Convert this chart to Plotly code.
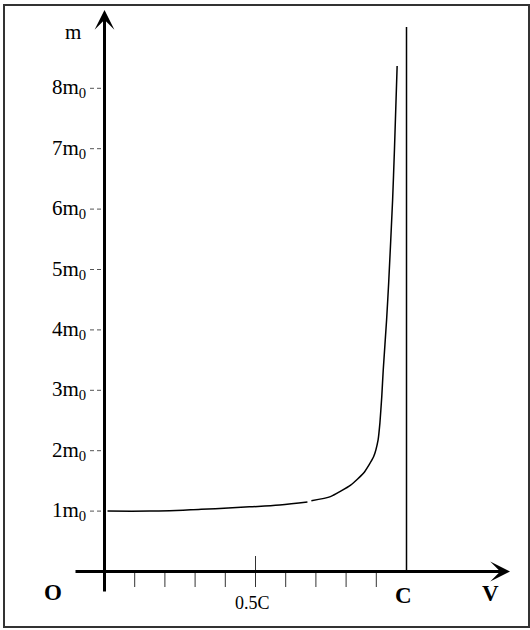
import plotly.graph_objects as go

# ---- data (v as fraction of C, m as multiple of m0) ----
curve_v_1 = [0.01, 0.15, 0.32, 0.48, 0.58, 0.672]
curve_m_1 = [1.00, 1.00, 1.03, 1.07, 1.10, 1.15]
curve_v_2 = [0.685, 0.748, 0.815, 0.858, 0.891, 0.906, 0.912, 0.918, 0.923, 0.934, 0.941, 0.954, 0.960, 0.969]
curve_m_2 = [1.17, 1.24, 1.43, 1.63, 1.90, 2.18, 2.46, 2.89, 3.34, 4.16, 4.78, 6.15, 6.97, 8.37]

y_tick_vals = [1, 2, 3, 4, 5, 6, 7, 8]
y_tick_text = [f"{k}m<sub>0</sub>" for k in y_tick_vals]
x_minor_ticks = [0.1, 0.2, 0.3, 0.4, 0.6, 0.7, 0.8, 0.9]
x_mid_tick = 0.5
x_mid_label = "0.5C"
c_value = 1.0

W, H = 530, 630
ox, sx = 104.5, 302.0      # px origin / px per C
oy, sy = 571.5, 60.4       # px origin / px per m0
x_range = [-ox / sx, (W - ox) / sx]
y_range = [(oy - H) / sy, oy / sy]

def px2x(p):
    return (p - ox) / sx

def py2y(p):
    return (oy - p) / sy

SERIF = "Liberation Serif, Times New Roman, serif"

fig = go.Figure()
fig.add_trace(go.Scatter(x=curve_v_1, y=curve_m_1, mode="lines",
                         line=dict(color="black", width=1.5, shape="spline"),
                         hoverinfo="skip", showlegend=False))
fig.add_trace(go.Scatter(x=curve_v_2, y=curve_m_2, mode="lines",
                         line=dict(color="black", width=1.5, shape="spline", smoothing=0.5),
                         hoverinfo="skip", showlegend=False))

shapes = []
# frame
shapes.append(dict(type="rect", xref="paper", yref="paper",
                   x0=4 / W, x1=529 / W, y0=1 - 627 / H, y1=1 - 5 / H,
                   line=dict(color="#333", width=2)))
# C vertical line
shapes.append(dict(type="line", xref="x", yref="y", x0=c_value, x1=c_value,
                   y0=0, y1=py2y(27), line=dict(color="black", width=1.5)))
# x minor ticks
for t in x_minor_ticks:
    shapes.append(dict(type="line", xref="x", yref="y", x0=t, x1=t,
                       y0=0, y1=py2y(587), line=dict(color="#333", width=1)))
shapes.append(dict(type="line", xref="x", yref="y", x0=x_mid_tick, x1=x_mid_tick,
                   y0=py2y(556), y1=py2y(587), line=dict(color="#333", width=1)))
# y dashed ticks
for v in y_tick_vals:
    shapes.append(dict(type="line", xref="x", yref="y", x0=px2x(90), x1=px2x(102),
                       y0=v, y1=v, line=dict(color="#555", width=1, dash="4px,3px")))

annotations = []
# axes with arrows
annotations.append(dict(x=0, y=py2y(10), ax=0, ay=py2y(593), xref="x", yref="y",
                        axref="x", ayref="y", text="", showarrow=True,
                        font=dict(family=SERIF, size=12),
                        arrowhead=3, arrowsize=1.1, arrowwidth=3, arrowcolor="black"))
annotations.append(dict(x=px2x(510), y=0, ax=px2x(74), ay=0, xref="x", yref="y",
                        axref="x", ayref="y", text="", showarrow=True,
                        font=dict(family=SERIF, size=12),
                        arrowhead=3, arrowsize=1.1, arrowwidth=3, arrowcolor="black"))
# y tick labels
for v, t in zip(y_tick_vals, y_tick_text):
    annotations.append(dict(x=px2x(88), y=v, xref="x", yref="y", text=t,
                            showarrow=False, xanchor="right", yanchor="middle",
                            font=dict(family=SERIF, size=21, color="black")))
# axis labels
annotations.append(dict(x=px2x(73), y=py2y(32), xref="x", yref="y", text="m",
                        showarrow=False, font=dict(family=SERIF, size=21, color="black")))
annotations.append(dict(x=px2x(53), y=py2y(592), xref="x", yref="y", text="<b>O</b>",
                        showarrow=False, font=dict(family=SERIF, size=23, color="black")))
annotations.append(dict(x=c_value - 0.01, y=py2y(595), xref="x", yref="y", text="<b>C</b>",
                        showarrow=False, font=dict(family=SERIF, size=23, color="black")))
annotations.append(dict(x=px2x(490), y=py2y(593), xref="x", yref="y", text="<b>V</b>",
                        showarrow=False, font=dict(family=SERIF, size=23, color="black")))
annotations.append(dict(x=x_mid_tick - 0.01, y=py2y(603), xref="x", yref="y", text=x_mid_label,
                        showarrow=False, font=dict(family=SERIF, size=18, color="black")))

fig.update_layout(
    width=W, height=H,
    margin=dict(l=0, r=0, t=0, b=0),
    paper_bgcolor="white", plot_bgcolor="white",
    font=dict(family=SERIF, size=14, color="black"),
    xaxis=dict(range=x_range, visible=False, fixedrange=True),
    yaxis=dict(range=y_range, visible=False, fixedrange=True),
    shapes=shapes, annotations=annotations,
    showlegend=False,
)
fig.write_html("out.html", config={"displayModeBar": False},
               post_script="document.body.style.margin='0';document.body.style.overflow='hidden';")
